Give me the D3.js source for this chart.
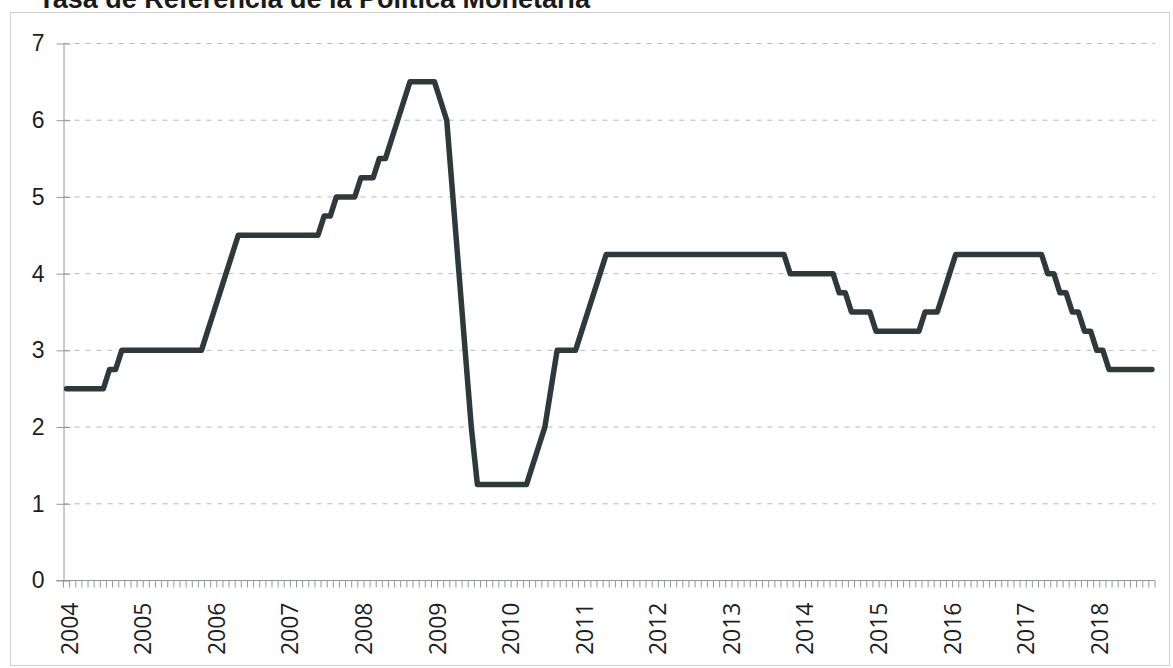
<!DOCTYPE html>
<meta charset="utf-8">
<title>Tasa de Referencia de la Política Monetaria</title>
<style>
body { margin: 0; background: #fff; }
svg { display: block; font-family: "Open Sans", "Liberation Sans", sans-serif; }
.grid line { stroke: #b9b9b9; stroke-width: 1; stroke-dasharray: 5,6; }
.axis path, .axis line { stroke: #9496a2; }
.axis text { font-size: 23px; fill: #1e1e1e; }
</style>
<body>
<svg width="1173" height="668"></svg>
<script src="https://cdn.jsdelivr.net/npm/d3@7"></script>
<script>

// monthly reference rate (%), Jan 2004 - Oct 2018
var rate2004 = [2.5, 2.5, 2.5, 2.5, 2.5, 2.5, 2.5, 2.75, 2.75, 3, 3, 3];
var rate2005 = [3, 3, 3, 3, 3, 3, 3, 3, 3, 3, 3, 3.25];
var rate2006 = [3.5, 3.75, 4, 4.25, 4.5, 4.5, 4.5, 4.5, 4.5, 4.5, 4.5, 4.5];
var rate2007 = [4.5, 4.5, 4.5, 4.5, 4.5, 4.5, 4.75, 4.75, 5, 5, 5, 5];
var rate2008 = [5.25, 5.25, 5.25, 5.5, 5.5, 5.75, 6, 6.25, 6.5, 6.5, 6.5, 6.5];
var rate2009 = [6.5, 6.25, 6, 5, 4, 3, 2, 1.25, 1.25, 1.25, 1.25, 1.25];
var rate2010 = [1.25, 1.25, 1.25, 1.25, 1.5, 1.75, 2, 2.5, 3, 3, 3, 3];
var rate2011 = [3.25, 3.5, 3.75, 4, 4.25, 4.25, 4.25, 4.25, 4.25, 4.25, 4.25, 4.25];
var rate2012 = [4.25, 4.25, 4.25, 4.25, 4.25, 4.25, 4.25, 4.25, 4.25, 4.25, 4.25, 4.25];
var rate2013 = [4.25, 4.25, 4.25, 4.25, 4.25, 4.25, 4.25, 4.25, 4.25, 4.25, 4, 4];
var rate2014 = [4, 4, 4, 4, 4, 4, 3.75, 3.75, 3.5, 3.5, 3.5, 3.5];
var rate2015 = [3.25, 3.25, 3.25, 3.25, 3.25, 3.25, 3.25, 3.25, 3.5, 3.5, 3.5, 3.75];
var rate2016 = [4, 4.25, 4.25, 4.25, 4.25, 4.25, 4.25, 4.25, 4.25, 4.25, 4.25, 4.25];
var rate2017 = [4.25, 4.25, 4.25, 4.25, 4, 4, 3.75, 3.75, 3.5, 3.5, 3.25, 3.25];
var rate2018 = [3, 3, 2.75, 2.75, 2.75, 2.75, 2.75, 2.75, 2.75, 2.75];

var years = ["2004", "2005", "2006", "2007", "2008", "2009", "2010", "2011",
             "2012", "2013", "2014", "2015", "2016", "2017", "2018"];
var yTicks = [0, 1, 2, 3, 4, 5, 6, 7];
var title = "Tasa de Referencia de la Política Monetaria";

var rates = [].concat(rate2004, rate2005, rate2006, rate2007, rate2008, rate2009,
  rate2010, rate2011, rate2012, rate2013, rate2014, rate2015, rate2016, rate2017, rate2018);

var svg = d3.select("svg");

// chart frame
svg.append("rect")
    .attr("x", 10.5).attr("y", 12.5)
    .attr("width", 1159).attr("height", 653)
    .attr("fill", "none")
    .attr("stroke", "#cfcfcf");

// title (cut off at the top of the picture, as in the scan)
svg.append("text")
    .attr("x", 590).attr("y", 8)
    .attr("text-anchor", "end")
    .style("font-family", "'Liberation Sans', Arial, sans-serif")
    .style("font-weight", "bold")
    .style("font-size", "27px")
    .attr("fill", "#1a1a1a")
    .text(title);

var x = d3.scaleBand()
    .domain(d3.range(rates.length))
    .range([63.5, 1155]);

function xc(i) { return x(i) + x.bandwidth() / 2; }

var y = d3.scaleLinear()
    .domain([0, 7])
    .range([580.5, 43.5]);

// gridlines
svg.append("g")
    .attr("class", "grid")
    .selectAll("line")
    .data(yTicks.slice(1))
    .enter().append("line")
      .attr("x1", 63.5)
      .attr("x2", 1155)
      .attr("y1", function(d) { return y(d); })
      .attr("y2", function(d) { return y(d); });

// y axis
var yAxis = svg.append("g")
    .attr("class", "axis")
    .attr("transform", "translate(63.5,0)")
    .call(d3.axisLeft(y).tickValues(yTicks).tickFormat(d3.format("d"))
      .tickSizeInner(7).tickSizeOuter(0).tickPadding(12));
yAxis.selectAll(".tick line").attr("x1", 7);

// x axis: line, one tick per month, a label each January
var xAxis = svg.append("g")
    .attr("class", "axis")
    .attr("transform", "translate(0,580.5)");

xAxis.append("line")
    .attr("x1", 56).attr("x2", 1155)
    .attr("y1", 0).attr("y2", 0);

xAxis.selectAll("line.mtick")
    .data(d3.range(rates.length + 1))
    .enter().append("line")
      .attr("class", "mtick")
      .attr("x1", function(i) { return i < rates.length ? x(i) : x.range()[1]; })
      .attr("x2", function(i) { return i < rates.length ? x(i) : x.range()[1]; })
      .attr("y1", 0).attr("y2", 7);

xAxis.selectAll("text")
    .data(years)
    .enter().append("text")
      .attr("transform", function(d, k) {
        return "translate(" + (xc(k * 12) + 3) + ",22) rotate(-90)";
      })
      .attr("text-anchor", "end")
      .attr("dy", "0.35em")
      .text(function(d) { return d; });

// the rate
var line = d3.line()
    .x(function(d, i) { return xc(i); })
    .y(function(d) { return y(d); });

svg.append("path")
    .datum(rates)
    .attr("d", line)
    .attr("fill", "none")
    .attr("stroke", "#2e393c")
    .attr("stroke-width", 5.5)
    .attr("stroke-linejoin", "round")
    .attr("stroke-linecap", "round");

</script>
</body>
